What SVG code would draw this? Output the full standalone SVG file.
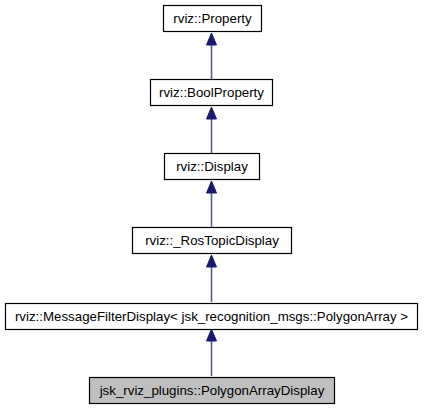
<svg xmlns="http://www.w3.org/2000/svg" width="424" height="411" viewBox="0 0 424 411">
<style>
.box{fill:#ffffff;stroke:#000000;stroke-width:1.2}
.cur{fill:#bfbfbf;stroke:#000000;stroke-width:1.2}
.lbl{font-family:"Liberation Sans",Arial,sans-serif;font-size:13.3px;fill:#000000;text-anchor:middle}
.edge{stroke:#5a5aa3;stroke-width:1.6;fill:none}
.head{fill:#191970;stroke:#191970;stroke-width:1}
</style>
<rect width="424" height="411" fill="#ffffff"/>
<g id="connectors">
<line class="edge" x1="211.5" y1="45" x2="211.5" y2="80"/>
<polygon class="head" points="211.5,33 206.5,45 216.5,45"/>
<line class="edge" x1="211.5" y1="119" x2="211.5" y2="154"/>
<polygon class="head" points="211.5,107 206.5,119 216.5,119"/>
<line class="edge" x1="211.5" y1="193" x2="211.5" y2="228"/>
<polygon class="head" points="211.5,181 206.5,193 216.5,193"/>
<line class="edge" x1="211.5" y1="267" x2="211.5" y2="302"/>
<polygon class="head" points="211.5,255 206.5,267 216.5,267"/>
<line class="edge" x1="211.5" y1="341" x2="211.5" y2="376"/>
<polygon class="head" points="211.5,329 206.5,341 216.5,341"/>
</g>
<g id="node-property">
<rect class="box" x="163.5" y="5.5" width="98" height="26"/>
<text class="lbl" x="212.5" y="23">rviz::Property</text>
</g>
<g id="node-boolproperty">
<rect class="box" x="150.5" y="79.5" width="122" height="26"/>
<text class="lbl" x="211.5" y="97">rviz::BoolProperty</text>
</g>
<g id="node-display">
<rect class="box" x="164.5" y="153.5" width="95" height="26"/>
<text class="lbl" x="212" y="171">rviz::Display</text>
</g>
<g id="node-rostopicdisplay">
<rect class="box" x="132.5" y="227.5" width="159" height="26"/>
<text class="lbl" x="212" y="245">rviz::_RosTopicDisplay</text>
</g>
<g id="node-messagefilterdisplay">
<rect class="box" x="5.5" y="303.5" width="412" height="26"/>
<text class="lbl" x="211.5" y="321">rviz::MessageFilterDisplay&lt; jsk_recognition_msgs::PolygonArray &gt;</text>
</g>
<g id="node-polygonarraydisplay">
<rect class="cur" x="89.5" y="377.5" width="245" height="26"/>
<text class="lbl" x="212" y="395">jsk_rviz_plugins::PolygonArrayDisplay</text>
</g>
</svg>
